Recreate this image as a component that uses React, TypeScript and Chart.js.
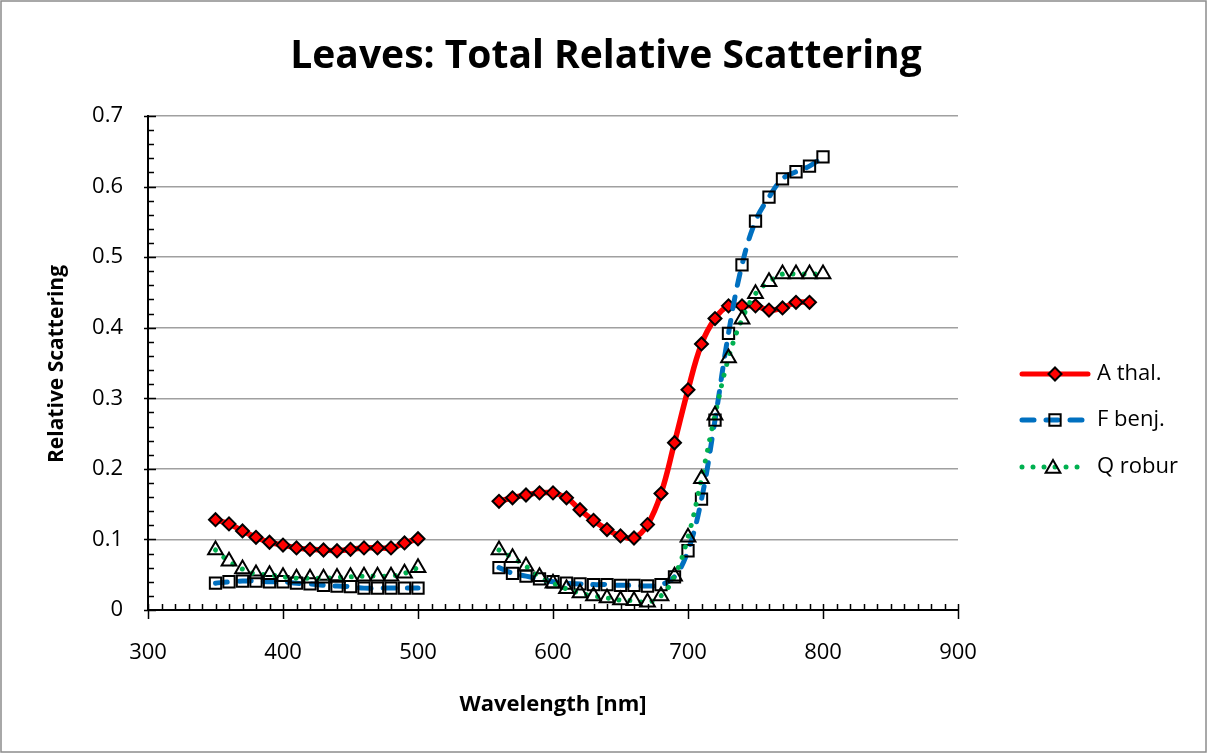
import React, { useEffect, useRef } from "react";
import { Chart, registerables } from "chart.js";
import { drawPoint } from "chart.js/helpers";

Chart.register(...registerables);

const TITLE = "Leaves: Total Relative Scattering";
const X_TITLE = "Wavelength [nm]";
const Y_TITLE = "Relative Scattering";

const WAVELENGTHS = [
  350, 360, 370, 380, 390, 400, 410, 420, 430, 440, 450, 460, 470, 480, 490, 500,
  510, 520, 530, 540, 550,
  560, 570, 580, 590, 600, 610, 620, 630, 640, 650, 660, 670, 680, 690, 700, 710,
  720, 730, 740, 750, 760, 770, 780, 790, 800,
];

const A_THAL = [
  0.128, 0.122, 0.112, 0.103, 0.096, 0.092, 0.088, 0.086, 0.085, 0.084, 0.086, 0.088, 0.088, 0.088, 0.095, 0.101,
  null, null, null, null, null,
  0.154, 0.159, 0.163, 0.166, 0.166, 0.159, 0.142, 0.127, 0.114, 0.105, 0.102, 0.121, 0.165, 0.237, 0.312, 0.377,
  0.413, 0.431, 0.431, 0.431, 0.425, 0.428, 0.436, 0.436, null,
];

const F_BENJ = [
  0.038, 0.040, 0.041, 0.041, 0.040, 0.040, 0.038, 0.037, 0.035, 0.034, 0.033, 0.031, 0.031, 0.031, 0.031, 0.031,
  null, null, null, null, null,
  0.060, 0.052, 0.048, 0.044, 0.040, 0.038, 0.037, 0.036, 0.036, 0.035, 0.035, 0.034, 0.036, 0.047, 0.084, 0.157,
  0.269, 0.392, 0.489, 0.551, 0.585, 0.611, 0.621, 0.629, 0.642,
];

const Q_ROBUR = [
  0.085, 0.069, 0.058, 0.051, 0.050, 0.047, 0.045, 0.045, 0.045, 0.046, 0.047, 0.048, 0.048, 0.048, 0.052, 0.060,
  null, null, null, null, null,
  0.085, 0.074, 0.062, 0.047, 0.038, 0.030, 0.024, 0.020, 0.017, 0.014, 0.013, 0.011, 0.020, 0.048, 0.103, 0.186,
  0.276, 0.357, 0.412, 0.448, 0.465, 0.476, 0.476, 0.476, 0.476,
];

const SERIES_NAMES = ["A thal.", "F benj.", "Q robur"];

const X_MIN = 300;
const X_MAX = 900;
const X_MAJOR = 100;
const X_MINOR = 10;
const Y_MIN = 0;
const Y_MAX = 0.7;
const Y_MAJOR = 0.1;
const Y_MINOR = 0.02;

const FONT = "'Open Sans', 'Noto Sans', sans-serif";

const RED = "#FF0000";
const BLUE = "#0070C0";
const GREEN = "#00B050";

const BLUE_DASH = [12, 12];
const GREEN_DASH = [0.01, 11];

const toPoints = (ys: (number | null)[]) => WAVELENGTHS.map((x, i) => ({ x, y: ys[i] }));

const decorPlugin = {
  id: "decor",
  afterDraw(chart: any) {
    const { ctx, chartArea, scales } = chart;
    const xs = scales.x;
    const ys = scales.y;
    ctx.save();

    // outer border
    ctx.strokeStyle = "#8C8C8C";
    ctx.lineWidth = 1.5;
    ctx.strokeRect(1, 1, chart.width - 2, chart.height - 2);

    // ticks
    ctx.strokeStyle = "#000";
    ctx.lineWidth = 1.5;
    const bottom = chartArea.bottom;
    const left = chartArea.left;
    ctx.beginPath();
    for (let v = X_MIN; v <= X_MAX + 0.001; v += X_MINOR) {
      const px = Math.round(xs.getPixelForValue(v)) + 0.5;
      const isMajor = Math.abs((v - X_MIN) % X_MAJOR) < 0.001;
      if (isMajor) {
        ctx.moveTo(px, bottom - 6);
        ctx.lineTo(px, bottom + 9);
      } else {
        ctx.moveTo(px, bottom);
        ctx.lineTo(px, bottom - 6);
      }
    }
    const nY = Math.round((Y_MAX - Y_MIN) / Y_MINOR);
    for (let i = 0; i <= nY; i++) {
      const v = Y_MIN + i * Y_MINOR;
      const py = Math.round(ys.getPixelForValue(v)) + 0.5;
      const isMajor = i % Math.round(Y_MAJOR / Y_MINOR) === 0;
      if (isMajor) {
        ctx.moveTo(left - 4, py);
        ctx.lineTo(left + 8, py);
      } else {
        ctx.moveTo(left, py);
        ctx.lineTo(left + 6, py);
      }
    }
    ctx.stroke();

    // titles
    ctx.fillStyle = "#000";
    ctx.textAlign = "center";
    ctx.textBaseline = "middle";
    ctx.font = `bold 39px ${FONT}`;
    ctx.fillText(TITLE, 606, 57);

    ctx.font = `bold 22px ${FONT}`;
    ctx.fillText(X_TITLE, 553, 705);

    ctx.save();
    ctx.translate(57, 364);
    ctx.rotate(-Math.PI / 2);
    ctx.font = `bold 21px ${FONT}`;
    ctx.fillText(Y_TITLE, 0, 0);
    ctx.restore();

    // legend
    const ly = [374, 420, 467];
    const x0 = 1022;
    const x1 = 1088;
    ctx.lineCap = "round";
    ctx.strokeStyle = RED;
    ctx.lineWidth = 5;
    ctx.setLineDash([]);
    ctx.beginPath();
    ctx.moveTo(x0, ly[0]);
    ctx.lineTo(x1, ly[0]);
    ctx.stroke();
    ctx.strokeStyle = BLUE;
    ctx.setLineDash(BLUE_DASH);
    ctx.beginPath();
    ctx.moveTo(x0, ly[1]);
    ctx.lineTo(x1, ly[1]);
    ctx.stroke();
    ctx.strokeStyle = GREEN;
    ctx.setLineDash(GREEN_DASH);
    ctx.beginPath();
    ctx.moveTo(x0, ly[2]);
    ctx.lineTo(x1, ly[2]);
    ctx.stroke();
    ctx.setLineDash([]);
    ctx.lineCap = "butt";

    ctx.strokeStyle = "#000";
    ctx.lineWidth = 2;
    ctx.fillStyle = RED;
    drawPoint(ctx, { pointStyle: "rectRot", radius: 6.5, borderWidth: 2, rotation: 0 }, 1055, ly[0]);
    ctx.fillStyle = "rgba(0,0,0,0)";
    drawPoint(ctx, { pointStyle: "rect", radius: 8, borderWidth: 2, rotation: 0 }, 1055, ly[1]);
    drawPoint(ctx, { pointStyle: "triangle", radius: 8.5, borderWidth: 2, rotation: 0 }, 1053, ly[2] + 1.5);

    ctx.fillStyle = "#000";
    ctx.textAlign = "left";
    ctx.textBaseline = "middle";
    ctx.font = `22px ${FONT}`;
    SERIES_NAMES.forEach((name, i) => ctx.fillText(name, 1097, ly[i]));

    ctx.restore();
  },
};

export default function App() {
  const canvasRef = useRef<HTMLCanvasElement | null>(null);

  useEffect(() => {
    const canvas = canvasRef.current;
    if (!canvas) return;
    const chart = new Chart(canvas, {
      type: "line",
      data: {
        datasets: [
          {
            label: SERIES_NAMES[0],
            data: toPoints(A_THAL),
            borderColor: RED,
            borderWidth: 5.5,
            tension: 0.4,
            pointStyle: "rectRot",
            pointRadius: 6.5,
            pointBackgroundColor: RED,
            pointBorderColor: "#000",
            pointBorderWidth: 2,
            spanGaps: false,
            order: 3,
          },
          {
            label: SERIES_NAMES[1],
            data: toPoints(F_BENJ),
            borderColor: BLUE,
            borderWidth: 5,
            borderDash: BLUE_DASH,
            borderCapStyle: "round",
            tension: 0.4,
            pointStyle: "rect",
            pointRadius: 8,
            pointBackgroundColor: "rgba(0,0,0,0)",
            pointBorderColor: "#000",
            pointBorderWidth: 2,
            spanGaps: false,
            order: 2,
          },
          {
            label: SERIES_NAMES[2],
            data: toPoints(Q_ROBUR),
            borderColor: GREEN,
            borderWidth: 5,
            borderDash: GREEN_DASH,
            borderCapStyle: "round",
            tension: 0.4,
            pointStyle: "triangle",
            pointRadius: 8.5,
            pointBackgroundColor: "rgba(0,0,0,0)",
            pointBorderColor: "#000",
            pointBorderWidth: 2,
            spanGaps: false,
            order: 1,
          },
        ],
      },
      options: {
        responsive: false,
        animation: false,
        devicePixelRatio: 1,
        layout: { padding: { top: 116, right: 249, left: 0, bottom: 0 } },
        plugins: {
          legend: { display: false },
          title: { display: false },
          tooltip: { enabled: false },
        },
        scales: {
          x: {
            type: "linear",
            min: X_MIN,
            max: X_MAX,
            ticks: {
              stepSize: X_MAJOR,
              color: "#000",
              font: { family: FONT, size: 22 },
              padding: 30,
              maxRotation: 0,
            },
            grid: { display: false, drawTicks: false },
            border: { display: true, color: "#000", width: 2 },
            afterFit: (s: any) => {
              s.height = 143;
            },
          },
          y: {
            type: "linear",
            min: Y_MIN,
            max: Y_MAX,
            ticks: {
              stepSize: Y_MAJOR,
              color: "#000",
              font: { family: FONT, size: 22 },
              padding: 25,
              callback: (v: any) => (Number(v) === 0 ? "0" : Number(v).toFixed(1)),
            },
            grid: { color: "#A0A0A0", lineWidth: 1.5, drawTicks: false },
            border: { display: true, color: "#000", width: 2 },
            afterFit: (s: any) => {
              s.width = 148;
            },
          },
        },
      },
      plugins: [decorPlugin],
    });
    return () => chart.destroy();
  }, []);

  return (
    <div style={{ position: "absolute", left: 0, top: 0, width: 1207, height: 753, background: "#fff" }}>
      <canvas ref={canvasRef} width={1207} height={753} style={{ width: 1207, height: 753, display: "block" }} />
    </div>
  );
}
